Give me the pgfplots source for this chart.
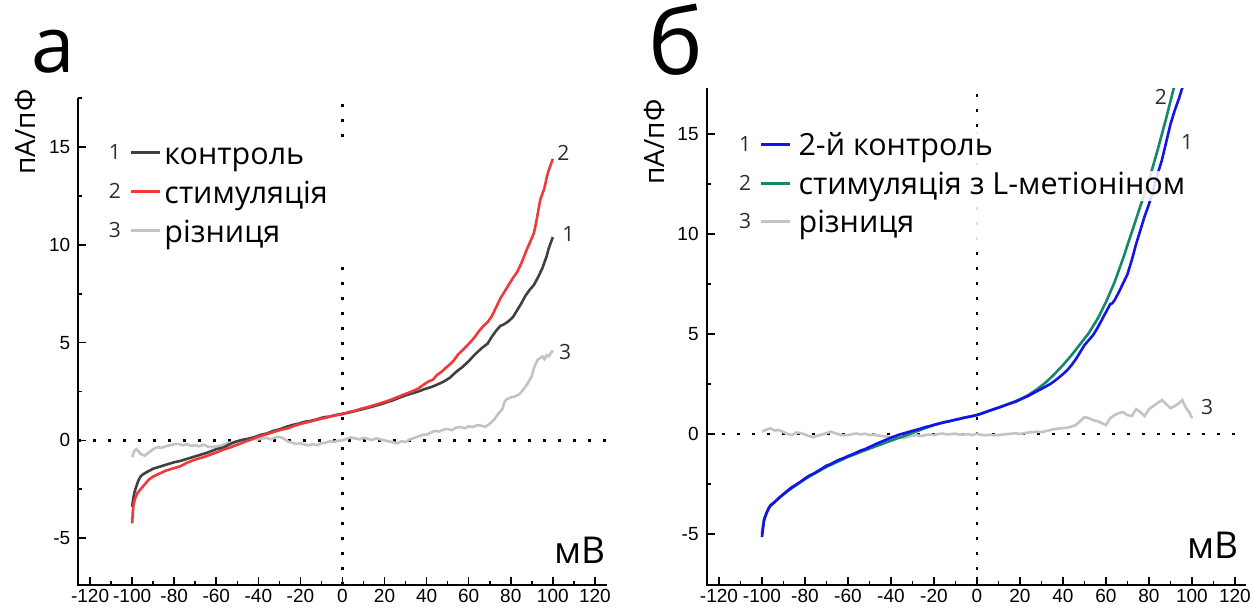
\documentclass[border=0pt]{standalone}
\usepackage{fontspec}
\setmainfont{Open Sans}
\newfontfamily\tickfont{Liberation Sans}
\usepackage{pgfplots}
\pgfplotsset{compat=1.18}
\definecolor{ctrl}{RGB}{64,64,64}
\definecolor{stim}{RGB}{238,58,58}
\definecolor{diff}{RGB}{195,195,195}
\definecolor{blu}{RGB}{20,20,232}
\definecolor{grn}{RGB}{22,135,106}
\definecolor{numc}{RGB}{45,45,45}
\newcommand\numfont{\fontsize{21}{24}\selectfont}
\newcommand\legfont{\fontsize{30.5}{33}\selectfont}

\pgfplotstableread{
x y
-100 -3.40
-99.5 -3.0
-99 -2.7
-98 -2.35
-97 -2.05
-96 -1.85
-95 -1.75
-93 -1.62
-90 -1.45
-87 -1.35
-84 -1.25
-80 -1.12
-77 -1.05
-74 -0.95
-70 -0.82
-67 -0.72
-64 -0.62
-60 -0.45
-57 -0.38
-54 -0.22
-51 -0.08
-48 0.02
-45 0.08
-42 0.16
-39 0.28
-36 0.35
-33 0.48
-30 0.56
-27 0.68
-24 0.78
-21 0.85
-18 0.95
-15 1.00
-12 1.08
-9 1.18
-6 1.22
-3 1.30
0 1.36
3 1.42
6 1.50
9 1.58
12 1.66
15 1.75
18 1.84
21 1.95
24 2.05
27 2.18
30 2.30
33 2.40
36 2.50
39 2.62
42 2.72
45 2.85
48 3.00
51 3.20
54 3.50
57 3.75
60 4.05
63 4.40
66 4.70
69 4.95
71 5.30
73 5.60
75 5.85
77 5.95
79 6.10
81 6.30
83 6.65
85 7.00
87 7.40
89 7.70
91 7.95
93 8.35
95 8.80
96 9.10
97 9.40
98 9.80
99 10.10
100 10.40
}\ctrl

\pgfplotstableread{
x y
-100 -4.25
-99.7 -3.70
-99.3 -3.25
-98.5 -2.95
-97.5 -2.70
-96 -2.50
-94 -2.25
-92 -2.00
-90 -1.85
-87 -1.70
-84 -1.55
-80 -1.42
-77 -1.32
-74 -1.15
-71 -1.02
-68 -0.92
-65 -0.82
-62 -0.70
-59 -0.58
-56 -0.45
-53 -0.35
-50 -0.22
-47 -0.10
-44 0.02
-41 0.15
-38 0.25
-35 0.35
-32 0.45
-29 0.55
-26 0.62
-23 0.74
-20 0.84
-17 0.92
-14 1.00
-11 1.08
-8 1.16
-5 1.24
-2 1.30
0 1.34
3 1.45
6 1.52
9 1.62
12 1.70
15 1.80
18 1.90
21 2.00
24 2.12
27 2.25
30 2.38
33 2.50
36 2.65
39 2.88
41 3.02
43 3.10
45 3.35
47 3.50
49 3.70
51 3.88
53 4.10
55 4.40
57 4.60
59 4.82
61 5.05
63 5.30
65 5.60
67 5.85
69 6.05
71 6.35
73 6.80
75 7.25
77 7.60
79 7.95
81 8.30
83 8.60
85 9.05
87 9.60
89 10.10
91 10.60
92 11.10
93 11.70
94 12.30
95 12.60
96 12.90
97 13.40
98 13.80
99 14.10
100 14.40
}\stim

\pgfplotstableread{
x y
-100 -0.85
-99 -0.55
-98 -0.45
-97 -0.55
-96 -0.70
-94 -0.78
-92 -0.62
-90 -0.45
-88 -0.35
-86 -0.38
-84 -0.30
-82 -0.25
-80 -0.20
-78 -0.18
-76 -0.25
-74 -0.20
-72 -0.28
-70 -0.25
-68 -0.30
-66 -0.22
-64 -0.32
-62 -0.35
-60 -0.30
-58 -0.28
-56 -0.20
-54 -0.12
-52 -0.10
-50 -0.06
-48 -0.02
-46 0.05
-44 0.02
-42 0.08
-40 0.05
-38 0.10
-36 0.12
-34 0.05
-32 0.15
-30 0.18
-28 0.10
-26 -0.05
-24 -0.12
-22 -0.18
-20 -0.15
-18 -0.22
-16 -0.25
-14 -0.20
-12 -0.25
-10 -0.15
-8 -0.12
-6 -0.05
-4 -0.08
-2 -0.02
0 0.00
2 0.08
4 0.15
6 0.10
8 0.05
10 0.12
12 0.08
14 0.02
16 0.10
18 0.05
20 0.00
22 -0.05
24 -0.10
26 -0.15
28 -0.05
30 -0.08
32 0.05
34 0.12
36 0.20
38 0.28
40 0.30
42 0.40
44 0.48
46 0.45
48 0.55
50 0.58
52 0.52
54 0.65
56 0.68
58 0.62
60 0.72
62 0.68
64 0.78
66 0.75
68 0.70
70 0.85
72 1.05
74 1.35
76 1.60
77 1.95
78 2.10
80 2.20
82 2.25
84 2.35
86 2.60
88 2.90
90 3.30
91 3.70
92 3.95
93 4.15
94 4.20
95 4.30
96 4.15
97 4.35
98 4.30
99 4.45
100 4.60
}\diffa

\pgfplotstableread{
x y
-100 -5.15
-99.5 -4.70
-99 -4.30
-98 -4.00
-97 -3.75
-96 -3.58
-94 -3.40
-92 -3.18
-90 -3.00
-88 -2.82
-86 -2.65
-84 -2.52
-82 -2.38
-80 -2.22
-78 -2.08
-76 -1.98
-74 -1.85
-72 -1.72
-70 -1.58
-68 -1.50
-66 -1.38
-64 -1.28
-62 -1.20
-60 -1.10
-58 -1.02
-56 -0.92
-54 -0.82
-52 -0.75
-50 -0.65
-48 -0.55
-46 -0.45
-44 -0.36
-42 -0.27
-40 -0.18
-38 -0.10
-36 -0.02
-34 0.04
-32 0.10
-30 0.16
-28 0.22
-26 0.28
-24 0.35
-22 0.40
-20 0.46
-18 0.52
-16 0.57
-14 0.62
-12 0.66
-10 0.72
-8 0.76
-6 0.82
-4 0.86
-2 0.90
0 0.95
2 1.02
4 1.10
6 1.18
8 1.25
10 1.32
12 1.40
14 1.48
16 1.55
18 1.62
20 1.72
24 1.92
28 2.15
32 2.38
34 2.50
36 2.65
38 2.82
40 3.00
42 3.20
44 3.45
46 3.75
48 4.10
50 4.45
52 4.70
54 4.95
56 5.30
58 5.70
60 6.10
62 6.50
63 6.55
64 6.70
66 7.10
68 7.55
70 8.00
72 8.70
74 9.50
76 10.20
78 10.90
80 11.50
82 12.20
84 13.00
86 13.70
88 14.60
90 15.50
92 16.20
94 16.80
96 17.50
97 17.90
}\blu

\pgfplotstableread{
x y
-100 -5.00
-99.5 -4.60
-99 -4.25
-98 -3.95
-97 -3.72
-96 -3.55
-94 -3.38
-92 -3.20
-90 -3.02
-88 -2.85
-86 -2.70
-84 -2.55
-82 -2.40
-80 -2.26
-78 -2.12
-76 -2.00
-74 -1.88
-72 -1.76
-70 -1.64
-68 -1.54
-66 -1.44
-64 -1.34
-62 -1.24
-60 -1.14
-58 -1.06
-56 -0.98
-54 -0.89
-52 -0.81
-50 -0.73
-48 -0.65
-46 -0.57
-44 -0.49
-42 -0.41
-40 -0.33
-38 -0.25
-36 -0.18
-34 -0.10
-32 -0.02
-30 0.06
-28 0.14
-26 0.22
-24 0.30
-22 0.38
-20 0.45
-18 0.51
-16 0.57
-14 0.62
-12 0.67
-10 0.72
-8 0.77
-6 0.82
-4 0.86
-2 0.91
0 0.96
4 1.10
8 1.25
12 1.40
16 1.56
20 1.74
24 1.96
28 2.25
32 2.58
36 3.00
40 3.45
44 3.95
48 4.50
52 5.05
56 5.75
60 6.60
64 7.60
68 8.80
72 10.10
76 11.40
80 12.70
84 14.20
88 15.80
92 17.50
94 18.40
}\grn

\pgfplotstableread{
x y
-100 0.12
-98 0.22
-96 0.28
-94 0.18
-92 0.20
-90 0.10
-88 0.00
-86 -0.05
-84 0.08
-82 0.05
-80 -0.02
-78 -0.10
-76 -0.15
-74 -0.08
-72 -0.02
-70 0.05
-68 0.12
-66 0.05
-64 -0.02
-62 -0.06
-60 -0.05
-58 0.00
-56 0.03
-54 -0.02
-52 0.02
-50 -0.05
-48 -0.02
-46 -0.08
-44 -0.10
-42 -0.12
-40 -0.15
-38 -0.18
-36 -0.15
-34 -0.20
-32 -0.12
-30 -0.08
-28 -0.05
-26 -0.10
-24 -0.05
-22 -0.02
-20 -0.05
-18 0.00
-16 0.03
-14 -0.02
-12 0.00
-10 0.02
-8 -0.03
-6 -0.02
-4 0.00
-2 -0.05
0 0.02
2 -0.04
4 -0.06
6 -0.03
8 -0.06
10 -0.05
12 -0.02
14 0.00
16 0.02
18 0.04
20 0.00
22 0.05
24 0.08
26 0.10
28 0.12
30 0.10
32 0.15
34 0.20
36 0.25
38 0.28
40 0.30
42 0.32
44 0.38
46 0.45
48 0.65
50 0.85
52 0.80
54 0.70
56 0.65
58 0.55
60 0.45
62 0.80
64 0.95
66 1.05
68 1.10
70 0.95
72 0.90
74 1.25
76 1.10
78 0.90
80 1.25
82 1.40
84 1.55
86 1.70
88 1.50
90 1.30
92 1.40
94 1.55
95.5 1.70
97 1.35
98 1.20
99 1.05
100 0.80
}\diffb

\tikzset{dotl/.style={black, line width=2.5pt, dash pattern=on 3pt off 12pt}}
\pgfplotsset{
  every axis/.append style={line width=1.6pt},
  legnum/.style={legend image code/.code={%
    \draw[##1] (0pt,0.33em) -- (29pt,0.33em);
    \node[anchor=east, inner sep=0pt, text=numc, font=\numfont, fill=none,
      text height=14pt, text depth=0pt] at (-10pt,0.33em) {#1};}},
  panel/.style={
    scale only axis,
    anchor=south west,
    clip mode=individual,
    axis x line=bottom, axis y line=left,
    axis line style={black, line width=1.6pt},
    every outer x axis line/.append style={-},
    every outer y axis line/.append style={-},
    xtick={-120,-100,...,120}, minor xtick={-110,-90,...,110},
    ytick={-5,0,5,10,15}, minor ytick={-2.5,2.5,7.5,12.5,17.5},
    tick align=inside,
    major tick length=8pt, minor tick length=4pt,
    tick style={black, line width=1.6pt},
    major tick style={black, line width=1.6pt},
    minor tick style={black, line width=1.6pt},
    tick label style={font=\tickfont\fontsize{19}{19}\selectfont},
    yticklabel style={xshift=-4pt},
    /pgf/number format/assume math mode=true,
    legend style={draw=none, fill=none, inner sep=0pt, outer sep=0pt,
      anchor=north west, font=\legfont, row sep=9pt,
      nodes={inner sep=0pt, text height=23pt, text depth=7pt}},
    legend cell align=left,
    every axis plot/.append style={line width=2.6pt},
  },
}

\begin{document}
\begin{tikzpicture}
\useasboundingbox (0,0) rectangle (1253pt,614pt);
\node[anchor=base west, inner sep=0pt, font=\fontsize{78}{80}\selectfont] at (31pt,541pt) {а};
\node[anchor=base west, inner sep=0pt, font=\fontsize{92}{94}\selectfont] at (648pt,539pt) {б};

% ---------- panel a
\begin{axis}[panel, at={(78.3pt,29pt)}, width=529pt, height=486.7pt,
  xmin=-125.6, xmax=125.9, ymin=-7.4, ymax=17.5,
  legend style={at={(0.058,0.912)}, /tikz/every odd column/.append style={column sep=3pt}}]
\draw[black, line width=1.6pt] (rel axis cs:0,1) -- (rel axis cs:0,0) -- (rel axis cs:1,0);
\draw[dotl] (axis cs:-125.6,0) -- (axis cs:125.9,0);
\draw[dotl] (axis cs:0,-7.4) -- (axis cs:0,9.33);
\draw[dotl] (axis cs:0,15.5) -- (axis cs:0,17.5);
\addlegendimage{ctrl, line width=3pt, legnum=1}
\addlegendentry{контроль}
\addlegendimage{stim, line width=3pt, legnum=2}
\addlegendentry{стимуляція}
\addlegendimage{diff, line width=3pt, legnum=3}
\addlegendentry{різниця}
\addplot[diff, forget plot] table[x=x, y=y] {\diffa};
\addplot[ctrl, forget plot] table[x=x, y=y] {\ctrl};
\addplot[stim, forget plot] table[x=x, y=y] {\stim};
\node[font=\numfont, text=numc] at (axis cs:105,14.7) {2};
\node[font=\numfont, text=numc] at (axis cs:107.4,10.55) {1};
\node[font=\numfont, text=numc] at (axis cs:105.8,4.5) {3};
\node[font=\fontsize{28}{30}\selectfont, rotate=90] at (rel axis cs:-0.099,0.931) {пА/пФ};
\node[font=\fontsize{37}{40}\selectfont] at (rel axis cs:0.948,0.072) {мВ};
\end{axis}

% ---------- panel b
\begin{axis}[panel, at={(706.7pt,29pt)}, width=539pt, height=496.7pt,
  xmin=-125.7, xmax=125, ymin=-7.55, ymax=17.3,
  legend style={at={(0.06,0.910)}, /tikz/every odd column/.append style={column sep=7pt},
    row sep=8.5pt, nodes={fill=white, fill opacity=0.85, text opacity=1}}]
\draw[black, line width=1.6pt] (rel axis cs:0,1) -- (rel axis cs:0,0) -- (rel axis cs:1,0);
\draw[dotl] (axis cs:-125.7,0) -- (axis cs:125,0);
\draw[dotl] (axis cs:0,-7.55) -- (axis cs:0,9.7);
\draw[dotl, black!12] (axis cs:0,9.7) -- (axis cs:0,15.37);
\draw[dotl] (axis cs:0,15.37) -- (axis cs:0,17.3);
\addlegendimage{blu, line width=3pt, legnum=1}
\addlegendentry{2-й контроль}
\addlegendimage{grn, line width=3pt, legnum=2}
\addlegendentry{стимуляція з L-метіоніном}
\addlegendimage{diff, line width=3pt, legnum=3}
\addlegendentry{різниця}
\addplot[diff, forget plot] table[x=x, y=y] {\diffb};
\addplot[grn, forget plot] table[x=x, y=y] {\grn};
\addplot[blu, forget plot] table[x=x, y=y] {\blu};
\node[font=\numfont, text=numc] at (axis cs:85.5,16.85) {2};
\node[font=\numfont, text=numc] at (axis cs:97.7,14.6) {1};
\node[font=\numfont, text=numc] at (axis cs:107,1.37) {3};
\node[font=\fontsize{28}{30}\selectfont, rotate=90] at (rel axis cs:-0.096,0.892) {пА/пФ};
\node[font=\fontsize{37}{40}\selectfont] at (rel axis cs:0.939,0.0805) {мВ};
\end{axis}
\end{tikzpicture}
\end{document}
